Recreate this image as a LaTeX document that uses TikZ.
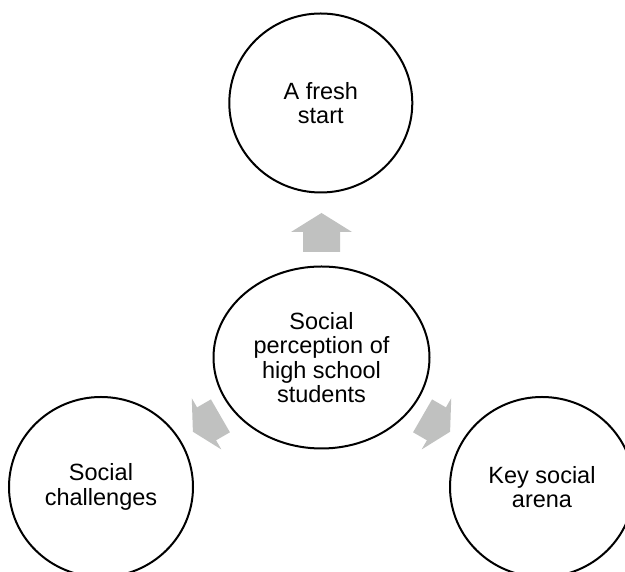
\documentclass[tikz,border=0pt]{standalone}
\usepackage{fontspec}
\setmainfont{Liberation Sans}
\usetikzlibrary{shapes.geometric}

\definecolor{arrowgray}{RGB}{192,193,192}
\tikzset{
    bubble/.style={draw, ellipse, line width=2pt, inner sep=0pt, align=center,
        font=\fontsize{23.5}{24.4}\selectfont},
    blockarrow/.style={fill=arrowgray, draw=none}
}

\begin{document}
\begin{tikzpicture}[x=1pt,y=1pt]
    \useasboundingbox (0,0) rectangle (625,572);

    \node[bubble, minimum width=216pt, minimum height=182pt] (perc) at (321.5,214.5) {Social\\perception of\\high school\\students};
    \node[bubble, minimum width=183pt, minimum height=179pt] (fresh) at (320.8,469) {A fresh\\start};
    \node[bubble, minimum width=184pt, minimum height=180pt] (chall) at (101,85) {Social\\challenges};
    \node[bubble, minimum width=184pt, minimum height=180pt] (arena) at (542,85) {Key social\\arena};

    % arrow up
    \begin{scope}[shift={(perc.center)}, rotate=90]
        \fill[blockarrow] (105.5,-18.5) -- (125.5,-18.5) -- (125.5,-30.5) -- (144.5,0)
            -- (125.5,30.5) -- (125.5,18.5) -- (105.5,18.5) -- cycle;
    \end{scope}
    % arrows down
    \foreach \a in {210,330}{
        \begin{scope}[shift={(perc.center)}, rotate=\a]
            \fill[blockarrow] (116.7,-19) -- (132.7,-19) -- (132.7,-29.6) -- (148.5,0)
                -- (132.7,29.6) -- (132.7,19) -- (116.7,19) -- cycle;
        \end{scope}
    }
\end{tikzpicture}
\end{document}
